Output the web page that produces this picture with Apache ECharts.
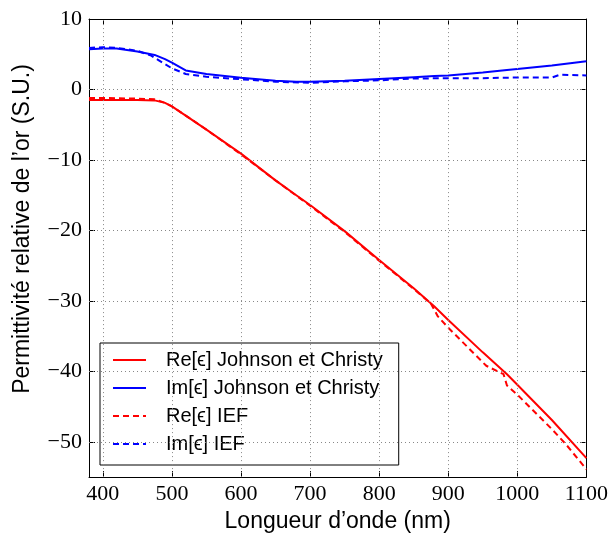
<!DOCTYPE html>
<html>
<head>
<meta charset="utf-8">
<script src="https://cdn.jsdelivr.net/npm/echarts@6/dist/echarts.min.js"></script>
<style>html,body{margin:0;padding:0;background:#fff}#c{width:611px;height:538px}</style>
</head>
<body>
<div id="c"></div>
<script>
// ---- data ----
const jcWave = [380, 400, 420, 450, 475, 490, 500, 520, 550, 600, 650, 680, 700, 750, 800, 850, 880, 900, 950, 985, 1000, 1050, 1100];
const jcRe   = [-1.5, -1.5, -1.5, -1.5, -1.55, -1.9, -2.4, -3.7, -5.7, -9.1, -12.9, -15.0, -16.4, -20.1, -24.2, -28.2, -30.8, -32.7, -37.3, -40.4, -41.9, -46.9, -52.3];
const jcIm   = [5.7, 5.8, 5.8, 5.4, 4.9, 4.3, 3.8, 2.7, 2.2, 1.65, 1.25, 1.08, 1.1, 1.25, 1.5, 1.75, 1.9, 2.0, 2.4, 2.75, 2.9, 3.4, 4.0];

const iefReWave = [380, 400, 450, 475, 490, 500, 520, 550, 600, 650, 700, 750, 800, 850, 875, 885, 900, 955, 980, 985, 1000, 1050, 1070, 1100];
const iefRe     = [-1.2, -1.2, -1.3, -1.4, -1.9, -2.4, -3.7, -5.7, -9.2, -12.9, -16.5, -20.2, -24.3, -28.3, -30.4, -32.2, -33.8, -39.2, -40.4, -42.0, -43.3, -48.2, -50.3, -53.9];

const iefImWave = [380, 400, 420, 450, 470, 480, 500, 520, 550, 600, 650, 700, 750, 800, 850, 900, 950, 1000, 1050, 1062, 1100];
const iefIm     = [5.9, 6.0, 5.9, 5.5, 4.8, 4.2, 3.0, 2.2, 1.8, 1.45, 1.1, 0.95, 1.15, 1.3, 1.55, 1.6, 1.6, 1.7, 1.7, 2.1, 2.0];

const xTicks = [400, 500, 600, 700, 800, 900, 1000, 1100];
const yTicks = [-50, -40, -30, -20, -10, 0, 10];

const seriesNames = ['Re[ϵ] Johnson et Christy', 'Im[ϵ] Johnson et Christy', 'Re[ϵ] IEF', 'Im[ϵ] IEF'];

// ---- chart ----
const zip = (xs, ys) => xs.map((x, i) => [x, ys[i]]);
const fmt = v => String(v).replace('-', '\u2212');
const tickFont = { fontFamily: 'Liberation Serif', fontSize: 22, color: '#000' };
const sansFont = 'Liberation Sans, DejaVu Sans, sans-serif';

const chart = echarts.init(document.getElementById('c'), null, { renderer: 'canvas' });
const gridStyle = { color: '#888', type: [1, 3], width: 1 };

chart.setOption({
  animation: false,
  grid: { left: 89, right: 21, top: 19, bottom: 58 },
  xAxis: [{
    type: 'value', min: 380, max: 1100,
    axisLine: { onZero: false, lineStyle: { color: '#000', width: 1 } },
    axisTick: { inside: true, length: 6, customValues: xTicks, lineStyle: { color: '#000' } },
    axisLabel: { customValues: xTicks, margin: 6, formatter: v => String(v), ...tickFont },
    splitLine: { show: false },
    name: 'Longueur d\u2019onde (nm)', nameLocation: 'middle', nameGap: 32,
    nameTextStyle: { fontFamily: sansFont, fontSize: 23, color: '#000' }
  }, {
    type: 'value', min: 380, max: 1100, position: 'top',
    axisLine: { onZero: false, lineStyle: { color: '#000', width: 1 } },
    axisTick: { inside: true, length: 6, customValues: xTicks, lineStyle: { color: '#000' } },
    axisLabel: { show: false }, splitLine: { show: false }
  }],
  yAxis: [{
    type: 'value', min: -55, max: 10,
    axisLine: { show: true, onZero: false, lineStyle: { color: '#000', width: 1 } },
    axisTick: { show: true, inside: true, length: 6, customValues: yTicks, lineStyle: { color: '#000' } },
    axisLabel: { customValues: yTicks, margin: 7, formatter: fmt, ...tickFont },
    splitLine: { show: false }
  }, {
    type: 'value', min: -55, max: 10, position: 'right',
    axisLine: { show: true, onZero: false, lineStyle: { color: '#000', width: 1 } },
    axisTick: { show: true, inside: true, length: 6, customValues: yTicks, lineStyle: { color: '#000' } },
    axisLabel: { show: false }, splitLine: { show: false }
  }],
  graphic: [{
    type: 'text', x: 23, y: 229, rotation: Math.PI / 2,
    style: { text: 'Permittivit\u00e9 relative de l\u2019or (S.U.)', font: '23px ' + sansFont, fill: '#000', align: 'center', verticalAlign: 'middle' }
  }],
  legend: {
    orient: 'vertical', left: 100, top: 343,
    data: seriesNames,
    backgroundColor: '#fff', borderColor: '#000', borderWidth: 1, borderRadius: 0,
    padding: [7, 16, 11, 12], itemGap: 8, itemWidth: 33, itemHeight: 18,
    itemStyle: { opacity: 0 },
    textStyle: { fontFamily: sansFont, fontSize: 20, color: '#000', padding: [0, 0, 0, 15] }
  },
  series: [{
    type: 'line', name: 'grid', silent: true, data: [], z: 1,
    markLine: {
      silent: true, symbol: 'none', label: { show: false }, lineStyle: gridStyle, animation: false,
      data: xTicks.filter(v => v < 1100).map(v => ({ xAxis: v })).concat(yTicks.filter(v => v < 10).map(v => ({ yAxis: v })))
    }
  }, {
    type: 'line', name: seriesNames[0], data: zip(jcWave, jcRe), showSymbol: false, symbol: 'none',
    lineStyle: { color: '#ff0000', width: 2 }, itemStyle: { color: '#ff0000' }, z: 3
  }, {
    type: 'line', name: seriesNames[1], data: zip(jcWave, jcIm), showSymbol: false, symbol: 'none',
    lineStyle: { color: '#0000ff', width: 2 }, itemStyle: { color: '#0000ff' }, z: 3
  }, {
    type: 'line', name: seriesNames[2], data: zip(iefReWave, iefRe), showSymbol: false, symbol: 'none',
    lineStyle: { color: '#ff0000', width: 2, type: [6, 4] }, itemStyle: { color: '#ff0000' }, z: 4
  }, {
    type: 'line', name: seriesNames[3], data: zip(iefImWave, iefIm), showSymbol: false, symbol: 'none',
    lineStyle: { color: '#0000ff', width: 2, type: [6, 4] }, itemStyle: { color: '#0000ff' }, z: 4
  }]
});
</script>
</body>
</html>
